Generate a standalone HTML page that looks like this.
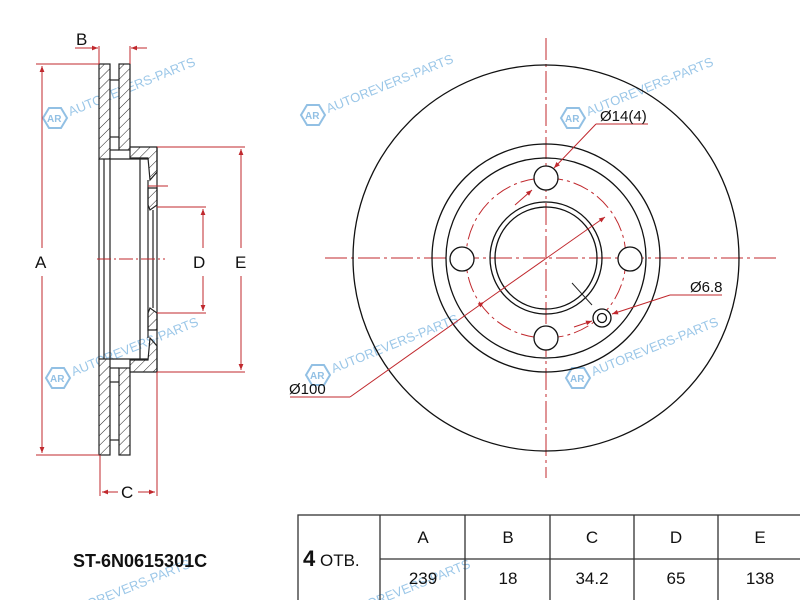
<!DOCTYPE html>
<html><head><meta charset="utf-8"><style>
html,body{margin:0;padding:0;background:#fff;}
svg{display:block;font-family:"Liberation Sans",Arial,sans-serif;}
</style></head><body>
<svg width="800" height="600" viewBox="0 0 800 600" xmlns="http://www.w3.org/2000/svg">
<defs>
<pattern id="h" patternUnits="userSpaceOnUse" width="7" height="7" patternTransform="rotate(45)">
<rect width="7" height="7" fill="#fff"/><line x1="0" y1="0" x2="0" y2="7" stroke="#222" stroke-width="1"/>
</pattern>
<marker id="ar" viewBox="0 0 10 10" refX="10" refY="5" markerWidth="8" markerHeight="6" orient="auto-start-reverse">
<path d="M0,1 L10,5 L0,9 z" fill="#c0282d"/></marker>
<g id="wm" fill="none" stroke="#7fb5e0" stroke-width="2">
<polygon points="-12,0 -6,-10 6,-10 12,0 6,10 -6,10"/>
<text x="-8" y="4" font-size="10" fill="#7fb5e0" stroke="none" font-weight="bold">AR</text>
<text x="15" y="4" font-size="13" fill="#8abde4" stroke="none" transform="rotate(-22)">AUTOREVERS-PARTS</text>
</g>
</defs>

<g opacity="0.85">
<use href="#wm" x="55" y="118"/>
<use href="#wm" x="313" y="115"/>
<use href="#wm" x="573" y="118"/>
<use href="#wm" x="58" y="378"/>
<use href="#wm" x="318" y="375"/>
<use href="#wm" x="578" y="378"/>
<use href="#wm" x="50" y="620"/>
<use href="#wm" x="330" y="620"/>
</g>

<!-- LEFT PROFILE -->
<g stroke="#222" stroke-width="1.2">
<rect x="99" y="64" width="11" height="95" fill="url(#h)"/>
<rect x="99" y="359" width="11" height="96" fill="url(#h)"/>
<rect x="119" y="64" width="11" height="86" fill="url(#h)"/>
<rect x="119" y="368" width="11" height="87" fill="url(#h)"/>
<line x1="110" y1="137" x2="119" y2="137"/><line x1="110" y1="150" x2="119" y2="150"/>
<line x1="110" y1="368" x2="119" y2="368"/><line x1="110" y1="382" x2="119" y2="382"/>
<line x1="110" y1="80" x2="119" y2="80"/><line x1="110" y1="440" x2="119" y2="440"/>
<polygon points="130,147 157,147 157,172 150,180 148,158 130,158" fill="url(#h)"/>
<polygon points="130,372 157,372 157,346 150,338 148,360 130,360" fill="url(#h)"/>
<polygon points="148,188 157,188 157,205 150,210 148,205" fill="url(#h)"/>
<polygon points="148,330 157,330 157,313 150,308 148,313" fill="url(#h)"/>
<line x1="110" y1="159" x2="148" y2="159"/><line x1="110" y1="359" x2="148" y2="359"/>
<line x1="99" y1="159" x2="99" y2="359"/>
<line x1="110" y1="159" x2="110" y2="359"/><line x1="140" y1="159" x2="140" y2="359"/>
<line x1="148" y1="180" x2="148" y2="338"/><line x1="153" y1="210" x2="153" y2="308"/>
<line x1="157" y1="147" x2="157" y2="372"/>
<line x1="104" y1="159" x2="104" y2="359"/>
</g>

<g stroke="#c0282d" stroke-width="1" fill="none">
<line x1="36" y1="64" x2="99" y2="64"/><line x1="36" y1="455" x2="99" y2="455"/>
<line x1="42" y1="66" x2="42" y2="248" marker-start="url(#ar)"/>
<line x1="42" y1="276" x2="42" y2="453" marker-end="url(#ar)"/>
<line x1="157" y1="147" x2="245" y2="147"/><line x1="157" y1="372" x2="245" y2="372"/>
<line x1="241" y1="149" x2="241" y2="248" marker-start="url(#ar)"/>
<line x1="241" y1="276" x2="241" y2="370" marker-end="url(#ar)"/>
<line x1="157" y1="207" x2="206" y2="207"/><line x1="157" y1="313" x2="206" y2="313"/>
<line x1="203" y1="209" x2="203" y2="248" marker-start="url(#ar)"/>
<line x1="203" y1="276" x2="203" y2="311" marker-end="url(#ar)"/>
<line x1="100" y1="455" x2="100" y2="496"/><line x1="157" y1="372" x2="157" y2="496"/>
<line x1="102" y1="492" x2="118" y2="492" marker-start="url(#ar)"/>
<line x1="138" y1="492" x2="155" y2="492" marker-end="url(#ar)"/>
<line x1="99" y1="46" x2="99" y2="64"/><line x1="130" y1="46" x2="130" y2="64"/>
<line x1="75" y1="48" x2="98" y2="48" marker-end="url(#ar)"/>
<line x1="147" y1="48" x2="131" y2="48" marker-end="url(#ar)"/>
<line x1="148" y1="186" x2="168" y2="186"/>
<line x1="97" y1="259" x2="165" y2="259" stroke-dasharray="14,3,2,3"/>
</g>
<g font-size="17" fill="#111">
<text x="35" y="268">A</text><text x="193" y="268">D</text><text x="235" y="268">E</text>
<text x="76" y="45">B</text><text x="121" y="498">C</text>
</g>

<!-- RIGHT DISC -->
<g stroke="#c0282d" stroke-width="1" fill="none" stroke-dasharray="22,4,3,4">
<line x1="546" y1="38" x2="546" y2="478"/>
<line x1="325" y1="258" x2="778" y2="258"/>
<circle cx="546" cy="258" r="80" stroke-dasharray="16,4,3,4"/>
</g>
<g stroke="#111" stroke-width="1.3" fill="none">
<circle cx="546" cy="258" r="193"/>
<circle cx="546" cy="258" r="114"/>
<circle cx="546" cy="258" r="100"/>
<circle cx="546" cy="258" r="56"/>
<circle cx="546" cy="258" r="51"/>
<circle cx="546" cy="178" r="12" fill="#fff"/>
<circle cx="546" cy="338" r="12" fill="#fff"/>
<circle cx="462" cy="259" r="12" fill="#fff"/>
<circle cx="630" cy="259" r="12" fill="#fff"/>
<circle cx="602" cy="318" r="9" fill="#fff"/>
<circle cx="602" cy="318" r="4.5"/>
</g>
<g stroke="#c0282d" stroke-width="1" fill="none">
<line x1="290" y1="397" x2="350" y2="397"/>
<line x1="350" y1="397" x2="484" y2="302" marker-end="url(#ar)"/>
<line x1="484" y1="302" x2="605" y2="217" marker-end="url(#ar)"/>
<line x1="596" y1="124" x2="648" y2="124"/>
<line x1="596" y1="124" x2="554" y2="168" marker-end="url(#ar)"/>
<line x1="670" y1="295" x2="722" y2="295"/>
<line x1="670" y1="295" x2="612" y2="314" marker-end="url(#ar)"/>
<line x1="515" y1="205" x2="532" y2="190" marker-end="url(#ar)"/>
<line x1="574" y1="327" x2="592" y2="321" marker-end="url(#ar)"/>
</g>
<g stroke="#222" stroke-width="1"><line x1="572" y1="283" x2="592" y2="305"/></g>
<g font-size="15" fill="#111">
<text x="289" y="394">Ø100</text>
<text x="600" y="121">Ø14(4)</text>
<text x="690" y="292">Ø6.8</text>
</g>

<text x="73" y="567" font-size="18" font-weight="bold" fill="#111">ST-6N0615301C</text>

<g stroke="#333" stroke-width="1.3" fill="none">
<rect x="298" y="515" width="510" height="100"/>
<line x1="380" y1="515" x2="380" y2="600"/>
<line x1="465" y1="515" x2="465" y2="600"/>
<line x1="550" y1="515" x2="550" y2="600"/>
<line x1="634" y1="515" x2="634" y2="600"/>
<line x1="718" y1="515" x2="718" y2="600"/>
<line x1="380" y1="559" x2="800" y2="559"/>
</g>
<g font-size="17" fill="#111" text-anchor="middle">
<text x="423" y="543">A</text><text x="508" y="543">B</text><text x="592" y="543">C</text><text x="676" y="543">D</text><text x="760" y="543">E</text>
<text x="423" y="584">239</text><text x="508" y="584">18</text><text x="592" y="584">34.2</text><text x="676" y="584">65</text><text x="760" y="584">138</text>
</g>
<text x="303" y="566" fill="#111"><tspan font-size="22" font-weight="bold">4</tspan><tspan font-size="17"> ОТВ.</tspan></text>
</svg>
</body></html>
